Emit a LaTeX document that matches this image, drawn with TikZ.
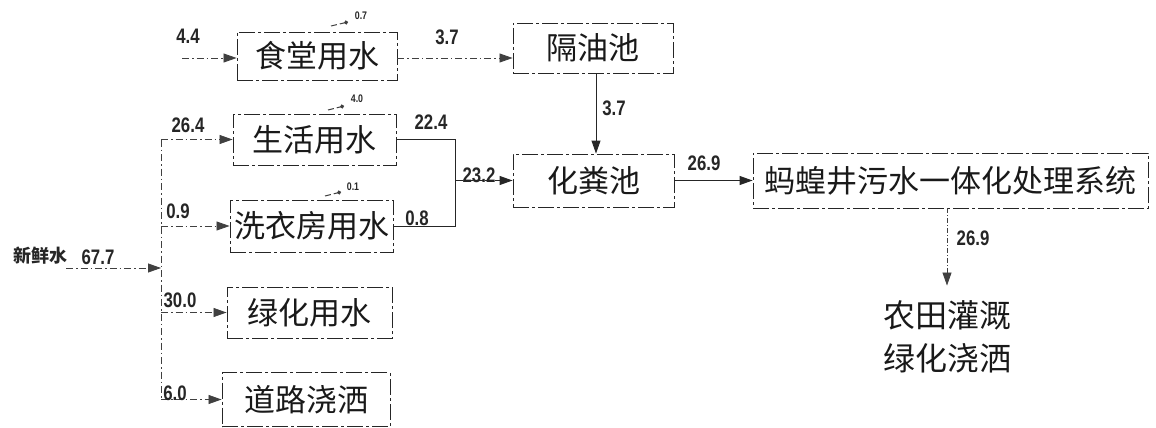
\documentclass[tikz,border=0pt]{standalone}
\usepackage{fontspec}
\newfontfamily\cjk{Noto Sans CJK SC}
\newfontfamily\numf[FakeStretch=0.8]{Liberation Sans}
\usetikzlibrary{arrows.meta}
\begin{document}
\begin{tikzpicture}[x=1pt,y=-1pt,
  box/.style={draw=black!85,line width=0.9pt,dash pattern=on 16pt off 3pt on 3pt off 3pt,inner sep=0pt,font=\fontsize{31}{31}\cjk,text=black!90},
  num/.style={font=\fontsize{21}{21}\numf\bfseries,text=black!85,inner sep=0pt},
  tiny/.style={font=\fontsize{11}{11}\numf\bfseries,text=black!85,inner sep=0pt},
  feed/.style={draw=black!75,line width=0.8pt,dash pattern=on 7pt off 3pt on 1.5pt off 3pt,-{Triangle[length=13pt,width=9pt]}},
  solid line/.style={draw=black!85,line width=0.9pt},
  sarrow/.style={solid line,-{Triangle[length=13pt,width=9pt]}},
  loss/.style={draw=black!75,line width=1pt,dash pattern=on 6pt off 3pt,-{Circle[length=4pt]}}
]
\useasboundingbox (0,0) rectangle (1156,428);

% boxes
\node[box,minimum width=160pt,minimum height=48pt] (st) at (317,56) {食堂用水};
\node[box,minimum width=160pt,minimum height=50pt] (gy) at (593,48) {隔油池};
\node[box,minimum width=163pt,minimum height=51pt] (sh) at (314.5,139.5) {生活用水};
\node[box,minimum width=163pt,minimum height=52pt] (xy) at (311.5,226) {洗衣房用水};
\node[box,minimum width=165pt,minimum height=51pt] (lh) at (309.5,312.5) {绿化用水};
\node[box,minimum width=168pt,minimum height=54pt] (dl) at (306,399.5) {道路浇洒};
\node[box,minimum width=161pt,minimum height=53pt] (hf) at (593.5,180.5) {化粪池};
\node[box,minimum width=395pt,minimum height=55pt] (mh) at (950.5,180.5) {蚂蝗井污水一体化处理系统};
\node[align=center,font=\fontsize{32}{43}\cjk,text=black!90,inner sep=0pt] (nt) at (947,337) {农田灌溉\\绿化浇洒};

% source
\node[font=\fontsize{18}{18}\cjk\bfseries,text=black!85,inner sep=0pt] (xx) at (40,256) {新鲜水};
\node[num] (n677) at (98,257) {67.7};
\coordinate (src) at (66,268);
\coordinate (jn) at (161,268);
\coordinate (ttop) at (161,139.5);
\coordinate (tbot) at (161,399.5);
\coordinate (s44) at (182,58);
\coordinate (mg) at (455,180.5);

\draw[feed] (src) -- (jn);
\draw[draw=black!75,line width=0.8pt,dash pattern=on 7pt off 3pt on 1.5pt off 3pt] (ttop) -- (tbot);
\draw[feed] (s44) -- (st.west |- s44);
\draw[feed] (ttop) -- (sh.west);
\draw[feed] (xy.west -| jn) -- (xy.west);
\draw[feed] (lh.west -| jn) -- (lh.west);
\draw[feed] (dl.west -| jn) -- (dl.west);

% flow lines
\draw[feed] (st.east |- s44) -- (gy.west |- s44);
\draw[sarrow] (gy.south -| 596,0) -- (hf.north -| 596,0);
\draw[solid line] (sh.east) -- (sh.east -| mg) -- (xy.east -| mg) -- (xy.east);
\draw[draw=black!85,line width=0.9pt,dash pattern=on 8pt off 2pt,-{Triangle[length=13pt,width=9pt]}] (mg) -- (hf.west);
\draw[sarrow] (hf.east) -- (mh.west);
\draw[draw=black!75,line width=0.8pt,dash pattern=on 5pt off 2pt on 1pt off 2pt,-{Triangle[length=13pt,width=9pt]}] (mh.south -| nt) -- ([yshift=15pt]nt.north);

% losses
\coordinate (l1a) at (331,26); \coordinate (l1b) at (348,22);
\coordinate (l2a) at (328,110); \coordinate (l2b) at (344,106);
\coordinate (l3a) at (325,196); \coordinate (l3b) at (341,192);
\draw[loss] (l1a) -- (l1b);
\draw[loss] (l2a) -- (l2b);
\draw[loss] (l3a) -- (l3b);
\node[tiny] (t07) at (361,16) {0.7};
\node[tiny] (t40) at (357,99) {4.0};
\node[tiny] (t01) at (353,187) {0.1};

% labels
\node[num] (a44) at (188,36) {4.4};
\node[num] (a37) at (447,37) {3.7};
\node[num] (a264) at (188,125) {26.4};
\node[num] (a224) at (431,122) {22.4};
\node[num] (a232) at (479,175) {23.2};
\node[num] (a09) at (178,211) {0.9};
\node[num] (a08) at (417,218) {0.8};
\node[num] (a300) at (180,300) {30.0};
\node[num] (a60) at (175,393) {6.0};
\node[num] (b37) at (614,108) {3.7};
\node[num] (b269) at (704,163) {26.9};
\node[num] (c269) at (973,238) {26.9};
\end{tikzpicture}
\end{document}
